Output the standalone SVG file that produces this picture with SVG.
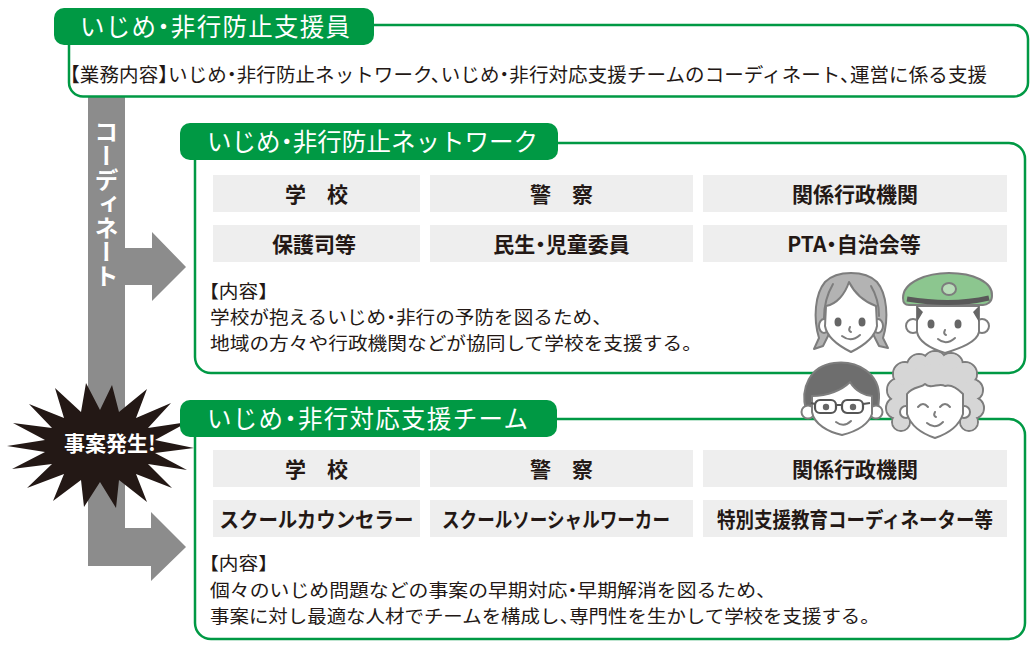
<svg xmlns="http://www.w3.org/2000/svg" width="1033" height="652" viewBox="0 0 1033 652">
  <defs>
    <style>
      text { font-family: "Noto Sans CJK JP", "Noto Sans CJK SC", sans-serif; font-feature-settings: "halt"; }
      .tab { fill: #009944; }
      .frame { fill: #ffffff; stroke: #009944; stroke-width: 2.5; }
      .cell { fill: #eeeeee; }
      .ttl { font-size: 24.5px; fill: #ffffff; }
      .body { font-size: 19.5px; fill: #231815; }
      .note { font-size: 17.8px; fill: #231815; }
      .ct { font-size: 21px; font-weight: bold; fill: #231815; text-anchor: middle; }
      .ln { stroke: #7d7d7d; stroke-width: 2; stroke-linejoin: round; stroke-linecap: round; }
      .skin { fill: #ffffff; }
      .eye { fill: #666666; }
      .feat { fill: none; stroke: #7d7d7d; stroke-width: 2; stroke-linecap: round; }
    </style>
  </defs>

  <rect width="1033" height="652" fill="#ffffff"/>

  <!-- coordination flow: vertical bar with two branch arrows -->
  <g id="connectors">
    <path d="M88,96 L125,96 L125,248 L152,248 L152,232 L186,267 L152,301 L152,285 L125,285 L125,528 L151,528 L151,512 L186,547 L151,581 L151,566 L88,566 Z" fill="#8c8c8c"/>
    <text x="106.5" y="120" style="writing-mode: vertical-rl;" font-size="24" font-weight="bold" fill="#ffffff">コーディネート</text>
  </g>

  <!-- incident burst -->
  <g id="incident">
    <polygon fill="#231815" points="194,448 155,453 187,470 148,464 172,488 136,474 147,502 119,480 116,508 100,482 84,507 81,480 53,501 64,474 27,488 52,464 12,469 45,452 7,446 45,440 13,423 52,428 29,404 64,418 55,388 81,412 86,383 100,410 112,385 119,412 147,389 136,418 171,403 148,428 188,422 155,440"/>
    <text x="110" y="451" font-size="21" font-weight="bold" fill="#ffffff" text-anchor="middle" style="font-feature-settings: normal;">事案発生!</text>
  </g>

  <!-- いじめ・非行防止支援員 -->
  <g id="coordinator">
    <rect class="frame" x="69" y="25" width="959" height="71.5" rx="14"/>
    <rect class="tab" x="54" y="8" width="320" height="37" rx="10"/>
    <text class="ttl" x="80" y="35.5" textLength="270" lengthAdjust="spacing">いじめ・非行防止支援員</text>
    <text class="body" x="70" y="82" textLength="917" lengthAdjust="spacing">【業務内容】いじめ・非行防止ネットワーク、いじめ・非行対応支援チームのコーディネート、運営に係る支援</text>
  </g>

  <!-- いじめ・非行防止ネットワーク -->
  <g id="network">
    <rect class="frame" x="195" y="143" width="830" height="230" rx="16"/>
    <rect class="tab" x="180" y="123" width="378" height="37" rx="10"/>
    <text class="ttl" x="207" y="150.5" textLength="331" lengthAdjust="spacing">いじめ・非行防止ネットワーク</text>
    <rect class="cell" x="213" y="175" width="207" height="37"/>
    <rect class="cell" x="430" y="175" width="263" height="37"/>
    <rect class="cell" x="703" y="175" width="304" height="37"/>
    <rect class="cell" x="213" y="225" width="207" height="37"/>
    <rect class="cell" x="430" y="225" width="263" height="37"/>
    <rect class="cell" x="703" y="225" width="304" height="37"/>
    <text class="ct" x="316.5" y="201.5">学　校</text>
    <text class="ct" x="561.5" y="201.5">警　察</text>
    <text class="ct" x="855" y="201.5">関係行政機関</text>
    <text class="ct" x="314" y="251.5">保護司等</text>
    <text class="ct" x="561.5" y="251.5">民生・児童委員</text>
    <text class="ct" x="854" y="251.5">PTA・自治会等</text>
    <text class="note" x="209" y="298" textLength="59" lengthAdjust="spacingAndGlyphs">【内容】</text>
    <text class="note" x="210" y="324" textLength="392" lengthAdjust="spacingAndGlyphs">学校が抱えるいじめ・非行の予防を図るため、</text>
    <text class="note" x="210" y="350" textLength="482" lengthAdjust="spacingAndGlyphs">地域の方々や行政機関などが協同して学校を支援する。</text>
  </g>

  <!-- いじめ・非行対応支援チーム -->
  <g id="support-team">
    <rect class="frame" x="195" y="419" width="830" height="220" rx="16"/>
    <rect class="tab" x="180" y="400" width="377" height="37" rx="10"/>
    <text class="ttl" x="207" y="427.5" textLength="321" lengthAdjust="spacing">いじめ・非行対応支援チーム</text>
    <rect class="cell" x="213" y="450" width="207" height="37"/>
    <rect class="cell" x="430" y="450" width="263" height="37"/>
    <rect class="cell" x="703" y="450" width="304" height="37"/>
    <rect class="cell" x="213" y="500" width="207" height="37"/>
    <rect class="cell" x="430" y="500" width="263" height="37"/>
    <rect class="cell" x="703" y="500" width="304" height="37"/>
    <text class="ct" x="316.5" y="476.5">学　校</text>
    <text class="ct" x="561.5" y="476.5">警　察</text>
    <text class="ct" x="855" y="476.5">関係行政機関</text>
    <text class="ct" x="316.5" y="526.5" textLength="194" lengthAdjust="spacingAndGlyphs">スクールカウンセラー</text>
    <text class="ct" x="556" y="526.5" textLength="228" lengthAdjust="spacingAndGlyphs">スクールソーシャルワーカー</text>
    <text class="ct" x="855" y="526.5" textLength="276" lengthAdjust="spacingAndGlyphs">特別支援教育コーディネーター等</text>
    <text class="note" x="209" y="570" textLength="59" lengthAdjust="spacingAndGlyphs">【内容】</text>
    <text class="note" x="210" y="597" textLength="556" lengthAdjust="spacingAndGlyphs">個々のいじめ問題などの事案の早期対応・早期解消を図るため、</text>
    <text class="note" x="210" y="623" textLength="660" lengthAdjust="spacingAndGlyphs">事案に対し最適な人材でチームを構成し、専門性を生かして学校を支援する。</text>
  </g>

  <!-- supporter illustrations -->
  <g id="people">
    <!-- woman with bob hair -->
    <g transform="translate(851,312)">
      <path class="ln" fill="#b3b3b3" d="M-28,34 L-37,37 L-32,26 C-38,6 -36,-18 -26,-30 C-14,-42 14,-42 26,-30 C36,-18 38,6 32,26 L37,36 L28,34 L22,22 L-22,22 Z"/>
      <ellipse class="ln skin" cx="-27" cy="14" rx="5" ry="7"/>
      <ellipse class="ln skin" cx="27" cy="14" rx="5" ry="7"/>
      <path class="ln skin" d="M-25,-6 C-14,-8 -6,-18 -2,-30 C4,-18 14,-10 25,-6 L26,14 C24,26 12,34 0,40 C-12,34 -24,26 -26,14 Z"/>
      <path class="feat" d="M-18,-28 C-25,-16 -27,-4 -27,6 M20,-26 C26,-16 28,-6 28,4"/>
      <ellipse class="eye" cx="-13" cy="10" rx="3.5" ry="4.5"/>
      <ellipse class="eye" cx="11" cy="10" rx="3.5" ry="4.5"/>
      <path class="feat" d="M-1,15 q-2,4 1,5"/>
      <path class="feat" d="M-9,24 Q0,31 9,23"/>
    </g>
    <!-- police officer -->
    <g transform="translate(947,318)">
      <circle class="ln skin" cx="-34" cy="8" r="7"/>
      <circle class="ln skin" cx="35" cy="8" r="7"/>
      <path class="ln skin" d="M-30,-12 L32,-12 L32,14 C30,24 14,30 -2,35 C-18,30 -28,24 -30,14 Z"/>
      <path fill="#666666" d="M-30,-12 L-30,4 L-24,-6 Z M32,-12 L32,4 L26,-6 Z"/>
      <path class="ln" fill="#8cc68f" d="M-44,-20 C-44,-36 -20,-45 2,-45 C26,-45 46,-36 45,-22 C45,-16 40,-13 36,-13 L-38,-13 C-42,-13 -44,-16 -44,-20 Z"/>
      <path fill="none" stroke="#595959" stroke-width="5" d="M-40,-19 C-10,-14 16,-14 42,-20"/>
      <ellipse class="ln" fill="#b8ddb8" cx="2" cy="-29" rx="7" ry="6"/>
      <ellipse class="eye" cx="-16" cy="6" rx="3.5" ry="4.5"/>
      <ellipse class="eye" cx="11" cy="6" rx="3.5" ry="4.5"/>
      <path class="feat" d="M-2,12 q-2,4 1,5"/>
      <path class="feat" d="M-9,21 Q-1,28 8,20"/>
    </g>
    <!-- man with glasses -->
    <g transform="translate(842,400)">
      <path class="ln" fill="#6e6e6e" d="M-36,10 C-42,-12 -32,-34 -8,-37 C16,-40 38,-26 37,-2 L36,10 Z"/>
      <circle class="ln skin" cx="-34" cy="12" r="6.5"/>
      <circle class="ln skin" cx="34" cy="12" r="6.5"/>
      <path class="ln skin" d="M-30,-4 C-14,-4 0,-10 8,-18 C14,-8 24,-4 30,-4 L30,14 C26,26 12,32 0,35 C-14,32 -28,24 -30,12 Z"/>
      <rect x="-27" y="0" width="21" height="13" rx="5" fill="none" stroke="#555555" stroke-width="2.2"/>
      <rect x="0" y="0" width="21" height="13" rx="5" fill="none" stroke="#555555" stroke-width="2.2"/>
      <path fill="none" stroke="#555555" stroke-width="2.2" d="M-6,5 L0,5 M-27,4 L-31,3 M21,4 L28,3"/>
      <circle class="eye" cx="-16" cy="7" r="3.2"/>
      <circle class="eye" cx="11" cy="7" r="3.2"/>
      <path class="feat" d="M-6,22 Q2,28 9,21"/>
    </g>
    <!-- older woman with curly hair -->
    <g transform="translate(935,398)">
      <g class="ln" fill="#d6d6d6">
        <circle cx="-36" cy="-8" r="12"/>
        <circle cx="-38" cy="10" r="11"/>
        <circle cx="-30" cy="-24" r="12"/>
        <circle cx="-16" cy="-32" r="12"/>
        <circle cx="0" cy="-35" r="12"/>
        <circle cx="16" cy="-33" r="12"/>
        <circle cx="30" cy="-24" r="12"/>
        <circle cx="37" cy="-8" r="11"/>
        <circle cx="38" cy="10" r="11"/>
        <circle cx="-34" cy="24" r="9"/>
        <circle cx="34" cy="24" r="9"/>
      </g>
      <g fill="#d6d6d6">
        <circle cx="-36" cy="-8" r="11"/>
        <circle cx="-38" cy="10" r="10"/>
        <circle cx="-30" cy="-24" r="11"/>
        <circle cx="-16" cy="-32" r="11"/>
        <circle cx="0" cy="-35" r="11"/>
        <circle cx="16" cy="-33" r="11"/>
        <circle cx="30" cy="-24" r="11"/>
        <circle cx="37" cy="-8" r="10"/>
        <circle cx="38" cy="10" r="10"/>
        <circle cx="-34" cy="24" r="8"/>
        <circle cx="34" cy="24" r="8"/>
        <ellipse cx="0" cy="-4" rx="34" ry="30"/>
      </g>
      <circle class="ln skin" cx="-29" cy="14" r="6"/>
      <circle class="ln skin" cx="29" cy="14" r="6"/>
      <path class="ln skin" d="M-28,-4 C-22,-12 -14,-10 -10,-14 C-4,-8 4,-16 10,-12 C16,-14 22,-10 28,-4 L28,16 C24,28 12,36 0,40 C-12,36 -24,28 -28,16 Z"/>
      <path class="feat" d="M-17,9 Q-12,3 -7,9 M5,9 Q10,3 15,9"/>
      <path class="feat" d="M0,14 q-2,4 1,5"/>
      <path class="feat" d="M-8,25 Q0,32 8,24"/>
    </g>
  </g>
</svg>
